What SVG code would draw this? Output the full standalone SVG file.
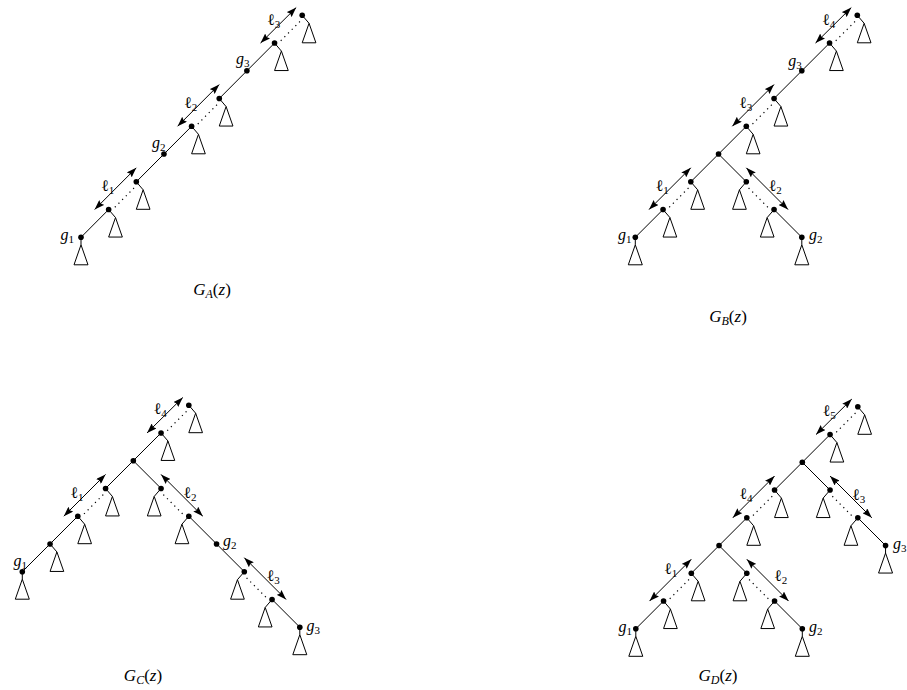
<svg xmlns="http://www.w3.org/2000/svg" width="907" height="690" viewBox="0 0 907 690">
<style>
.e{stroke:#000;stroke-width:1;fill:none}
.d{stroke:#000;stroke-width:1.2;stroke-dasharray:1.2 4;fill:none}
.a{stroke:#000;stroke-width:1;fill:none;marker-start:url(#ah);marker-end:url(#ah)}
.t{fill:#fff;stroke:#000;stroke-width:1;stroke-linejoin:miter}
.c{stroke:#000;stroke-width:1}
.n{fill:#000}
text{font-family:"Liberation Serif","Times New Roman","DejaVu Serif",serif;fill:#000}
.lb{font-size:16px}
.sb{font-size:11px}
.cap{font-size:17px}
.csb{font-size:12px}
.i{font-style:italic}
</style>
<defs>
<marker id="ah" viewBox="0 0 10 7" refX="10" refY="3.5" markerWidth="10" markerHeight="7" markerUnits="userSpaceOnUse" orient="auto-start-reverse">
<path d="M0,0 L10,3.5 L0,7 L1.5,3.5 Z" fill="#000"/>
</marker>
</defs>

<!-- ================= Tree A ================= -->
<g id="treeA">
<g id="A-connectors">
<line class="e" x1="81" y1="237.3" x2="108.65" y2="209.55"/>
<line class="e" x1="136.3" y1="181.8" x2="163.95" y2="154.05"/>
<line class="e" x1="163.95" y1="154.05" x2="191.6" y2="126.3"/>
<line class="e" x1="219.25" y1="98.55" x2="246.9" y2="70.8"/>
<line class="e" x1="246.9" y1="70.8" x2="274.55" y2="43.05"/>
<line class="d" x1="114.85" y1="207.25" x2="134" y2="188"/>
<line class="d" x1="197.8" y1="124" x2="216.95" y2="104.75"/>
<line class="d" x1="280.75" y1="40.75" x2="299.9" y2="21.5"/>
<line class="a" x1="94.65" y1="209.55" x2="136.3" y2="167.8"/>
<line class="a" x1="177.6" y1="126.3" x2="219.25" y2="84.55"/>
<line class="a" x1="260.55" y1="43.05" x2="296.2" y2="7.6"/>
<text class="lb" x="101" y="191">ℓ<tspan class="sb" dy="3">1</tspan></text>
<text class="lb" x="184" y="108">ℓ<tspan class="sb" dy="3">2</tspan></text>
<text class="lb" x="267" y="24.5">ℓ<tspan class="sb" dy="3">3</tspan></text>
</g>
<g id="A-g1"><line class="c" x1="81" y1="237.3" x2="81" y2="244.8"/><polygon class="t" points="81,244.8 74,264.8 88,264.8"/><circle class="n" cx="81" cy="237.3" r="2.8"/>
<text class="lb" x="74" y="239.5" text-anchor="end"><tspan class="i">g</tspan><tspan class="sb" dy="3">1</tspan></text></g>
<g id="A-n1"><line class="c" x1="108.65" y1="209.55" x2="115.5" y2="217.55"/><polygon class="t" points="115.5,217.55 108.65,237.05 122.35,237.05"/><circle class="n" cx="108.65" cy="209.55" r="2.8"/></g>
<g id="A-n2"><line class="c" x1="136.3" y1="181.8" x2="143.15" y2="189.8"/><polygon class="t" points="143.15,189.8 136.3,209.3 150,209.3"/><circle class="n" cx="136.3" cy="181.8" r="2.8"/></g>
<g id="A-g2"><circle class="n" cx="163.95" cy="154.05" r="2.8"/>
<text class="lb" x="165.5" y="148" text-anchor="end"><tspan class="i">g</tspan><tspan class="sb" dy="3">2</tspan></text></g>
<g id="A-n3"><line class="c" x1="191.6" y1="126.3" x2="198.45" y2="134.3"/><polygon class="t" points="198.45,134.3 191.6,153.8 205.3,153.8"/><circle class="n" cx="191.6" cy="126.3" r="2.8"/></g>
<g id="A-n4"><line class="c" x1="219.25" y1="98.55" x2="226.1" y2="106.55"/><polygon class="t" points="226.1,106.55 219.25,126.05 232.95,126.05"/><circle class="n" cx="219.25" cy="98.55" r="2.8"/></g>
<g id="A-g3"><circle class="n" cx="246.9" cy="70.8" r="2.8"/>
<text class="lb" x="249.5" y="64.3" text-anchor="end"><tspan class="i">g</tspan><tspan class="sb" dy="3">3</tspan></text></g>
<g id="A-n5"><line class="c" x1="274.55" y1="43.05" x2="281.4" y2="51.05"/><polygon class="t" points="281.4,51.05 274.55,70.55 288.25,70.55"/><circle class="n" cx="274.55" cy="43.05" r="2.8"/></g>
<g id="A-top"><line class="c" x1="302.2" y1="15.3" x2="309.05" y2="23.3"/><polygon class="t" points="309.05,23.3 302.2,42.8 315.9,42.8"/><circle class="n" cx="302.2" cy="15.3" r="2.8"/></g>
<text class="cap" x="212" y="295" text-anchor="middle"><tspan class="i">G</tspan><tspan class="csb i" dy="3">A</tspan><tspan dy="-3">(</tspan><tspan class="i">z</tspan>)</text>
</g>

<!-- ================= Tree B ================= -->
<g id="treeB">
<g id="B-connectors">
<line class="e" x1="635.3" y1="237.3" x2="663.05" y2="209.55"/>
<line class="e" x1="690.8" y1="181.8" x2="718.55" y2="154.05"/>
<line class="e" x1="718.55" y1="154.05" x2="746.3" y2="126.3"/>
<line class="e" x1="774.05" y1="98.55" x2="801.8" y2="70.8"/>
<line class="e" x1="801.8" y1="70.8" x2="829.55" y2="43.05"/>
<line class="e" x1="718.55" y1="154.05" x2="746.3" y2="181.8"/>
<line class="e" x1="774.05" y1="209.55" x2="801.8" y2="237.3"/>
<line class="d" x1="669.25" y1="207.25" x2="688.5" y2="188"/>
<line class="d" x1="752.5" y1="124" x2="771.75" y2="104.75"/>
<line class="d" x1="835.75" y1="40.75" x2="855" y2="21.5"/>
<line class="d" x1="748.6" y1="188" x2="767.85" y2="207.25"/>
<line class="a" x1="649.05" y1="209.55" x2="690.8" y2="167.8"/>
<line class="a" x1="732.3" y1="126.3" x2="774.05" y2="84.55"/>
<line class="a" x1="815.55" y1="43.05" x2="851.3" y2="7.6"/>
<line class="a" x1="746.3" y1="167.8" x2="788.05" y2="209.55"/>
<text class="lb" x="655.5" y="191">ℓ<tspan class="sb" dy="3">1</tspan></text>
<text class="lb" x="768.5" y="191">ℓ<tspan class="sb" dy="3">2</tspan></text>
<text class="lb" x="739" y="107.8">ℓ<tspan class="sb" dy="3">3</tspan></text>
<text class="lb" x="822" y="24.5">ℓ<tspan class="sb" dy="3">4</tspan></text>
</g>
<g id="B-g1"><line class="c" x1="635.3" y1="237.3" x2="635.3" y2="244.8"/><polygon class="t" points="635.3,244.8 628.3,264.8 642.3,264.8"/><circle class="n" cx="635.3" cy="237.3" r="2.8"/>
<text class="lb" x="631.5" y="240" text-anchor="end"><tspan class="i">g</tspan><tspan class="sb" dy="3">1</tspan></text></g>
<g id="B-n1"><line class="c" x1="663.05" y1="209.55" x2="669.9" y2="217.55"/><polygon class="t" points="669.9,217.55 663.05,237.05 676.75,237.05"/><circle class="n" cx="663.05" cy="209.55" r="2.8"/></g>
<g id="B-n2"><line class="c" x1="690.8" y1="181.8" x2="697.65" y2="189.8"/><polygon class="t" points="697.65,189.8 690.8,209.3 704.5,209.3"/><circle class="n" cx="690.8" cy="181.8" r="2.8"/></g>
<g id="B-branch"><circle class="n" cx="718.55" cy="154.05" r="2.8"/></g>
<g id="B-n3"><line class="c" x1="746.3" y1="126.3" x2="753.15" y2="134.3"/><polygon class="t" points="753.15,134.3 746.3,153.8 760,153.8"/><circle class="n" cx="746.3" cy="126.3" r="2.8"/></g>
<g id="B-n4"><line class="c" x1="774.05" y1="98.55" x2="780.9" y2="106.55"/><polygon class="t" points="780.9,106.55 774.05,126.05 787.75,126.05"/><circle class="n" cx="774.05" cy="98.55" r="2.8"/></g>
<g id="B-g3"><circle class="n" cx="801.8" cy="70.8" r="2.8"/>
<text class="lb" x="801.7" y="66" text-anchor="end"><tspan class="i">g</tspan><tspan class="sb" dy="3">3</tspan></text></g>
<g id="B-n5"><line class="c" x1="829.55" y1="43.05" x2="836.4" y2="51.05"/><polygon class="t" points="836.4,51.05 829.55,70.55 843.25,70.55"/><circle class="n" cx="829.55" cy="43.05" r="2.8"/></g>
<g id="B-top"><line class="c" x1="857.3" y1="15.3" x2="864.15" y2="23.3"/><polygon class="t" points="864.15,23.3 857.3,42.8 871,42.8"/><circle class="n" cx="857.3" cy="15.3" r="2.8"/></g>
<g id="B-r1"><line class="c" x1="746.3" y1="181.8" x2="739.45" y2="189.8"/><polygon class="t" points="739.45,189.8 732.6,209.3 746.3,209.3"/><circle class="n" cx="746.3" cy="181.8" r="2.8"/></g>
<g id="B-r2"><line class="c" x1="774.05" y1="209.55" x2="767.2" y2="217.55"/><polygon class="t" points="767.2,217.55 760.35,237.05 774.05,237.05"/><circle class="n" cx="774.05" cy="209.55" r="2.8"/></g>
<g id="B-g2"><line class="c" x1="801.8" y1="237.3" x2="801.8" y2="244.8"/><polygon class="t" points="801.8,244.8 794.8,264.8 808.8,264.8"/><circle class="n" cx="801.8" cy="237.3" r="2.8"/>
<text class="lb" x="809" y="240"><tspan class="i">g</tspan><tspan class="sb" dy="3">2</tspan></text></g>
<text class="cap" x="728" y="322" text-anchor="middle"><tspan class="i">G</tspan><tspan class="csb i" dy="3">B</tspan><tspan dy="-3">(</tspan><tspan class="i">z</tspan>)</text>
</g>

<!-- ================= Tree C ================= -->
<g id="treeC">
<g id="C-connectors">
<line class="e" x1="161.05" y1="432.95" x2="133.3" y2="460.7"/>
<line class="e" x1="133.3" y1="460.7" x2="105.55" y2="488.45"/>
<line class="e" x1="77.8" y1="516.2" x2="50.05" y2="543.95"/>
<line class="e" x1="50.05" y1="543.95" x2="22.3" y2="571.7"/>
<line class="e" x1="133.3" y1="460.7" x2="161.05" y2="488.45"/>
<line class="e" x1="188.8" y1="516.2" x2="216.55" y2="543.95"/>
<line class="e" x1="216.55" y1="543.95" x2="244.3" y2="571.7"/>
<line class="e" x1="272.05" y1="599.45" x2="299.8" y2="627.2"/>
<line class="d" x1="167.25" y1="430.65" x2="186.5" y2="411.4"/>
<line class="d" x1="84" y1="513.9" x2="103.25" y2="494.65"/>
<line class="d" x1="163.35" y1="494.65" x2="182.6" y2="513.9"/>
<line class="d" x1="246.6" y1="577.9" x2="265.85" y2="597.15"/>
<line class="a" x1="147.05" y1="432.95" x2="182.8" y2="397.5"/>
<line class="a" x1="63.8" y1="516.2" x2="105.55" y2="474.45"/>
<line class="a" x1="161.05" y1="474.45" x2="202.8" y2="516.2"/>
<line class="a" x1="244.3" y1="557.7" x2="286.05" y2="599.45"/>
<text class="lb" x="70.3" y="497.5">ℓ<tspan class="sb" dy="3">1</tspan></text>
<text class="lb" x="183.3" y="497.5">ℓ<tspan class="sb" dy="3">2</tspan></text>
<text class="lb" x="266.6" y="581">ℓ<tspan class="sb" dy="3">3</tspan></text>
<text class="lb" x="153.6" y="414">ℓ<tspan class="sb" dy="3">4</tspan></text>
</g>
<g id="C-top"><line class="c" x1="188.8" y1="405.2" x2="195.65" y2="413.2"/><polygon class="t" points="195.65,413.2 188.8,432.7 202.5,432.7"/><circle class="n" cx="188.8" cy="405.2" r="2.8"/></g>
<g id="C-n1"><line class="c" x1="161.05" y1="432.95" x2="167.9" y2="440.95"/><polygon class="t" points="167.9,440.95 161.05,460.45 174.75,460.45"/><circle class="n" cx="161.05" cy="432.95" r="2.8"/></g>
<g id="C-branch"><circle class="n" cx="133.3" cy="460.7" r="2.8"/></g>
<g id="C-l1"><line class="c" x1="105.55" y1="488.45" x2="112.4" y2="496.45"/><polygon class="t" points="112.4,496.45 105.55,515.95 119.25,515.95"/><circle class="n" cx="105.55" cy="488.45" r="2.8"/></g>
<g id="C-l2"><line class="c" x1="77.8" y1="516.2" x2="84.65" y2="524.2"/><polygon class="t" points="84.65,524.2 77.8,543.7 91.5,543.7"/><circle class="n" cx="77.8" cy="516.2" r="2.8"/></g>
<g id="C-l3"><line class="c" x1="50.05" y1="543.95" x2="56.9" y2="551.95"/><polygon class="t" points="56.9,551.95 50.05,571.45 63.75,571.45"/><circle class="n" cx="50.05" cy="543.95" r="2.8"/></g>
<g id="C-g1"><line class="c" x1="22.3" y1="571.7" x2="22.3" y2="579.2"/><polygon class="t" points="22.3,579.2 15.3,599.2 29.3,599.2"/><circle class="n" cx="22.3" cy="571.7" r="2.8"/>
<text class="lb" x="27" y="565.5" text-anchor="end"><tspan class="i">g</tspan><tspan class="sb" dy="3">1</tspan></text></g>
<g id="C-r1"><line class="c" x1="161.05" y1="488.45" x2="154.2" y2="496.45"/><polygon class="t" points="154.2,496.45 147.35,515.95 161.05,515.95"/><circle class="n" cx="161.05" cy="488.45" r="2.8"/></g>
<g id="C-r2"><line class="c" x1="188.8" y1="516.2" x2="181.95" y2="524.2"/><polygon class="t" points="181.95,524.2 175.1,543.7 188.8,543.7"/><circle class="n" cx="188.8" cy="516.2" r="2.8"/></g>
<g id="C-g2"><circle class="n" cx="216.55" cy="543.95" r="2.8"/>
<text class="lb" x="223" y="546"><tspan class="i">g</tspan><tspan class="sb" dy="3">2</tspan></text></g>
<g id="C-r3"><line class="c" x1="244.3" y1="571.7" x2="237.45" y2="579.7"/><polygon class="t" points="237.45,579.7 230.6,599.2 244.3,599.2"/><circle class="n" cx="244.3" cy="571.7" r="2.8"/></g>
<g id="C-r4"><line class="c" x1="272.05" y1="599.45" x2="265.2" y2="607.45"/><polygon class="t" points="265.2,607.45 258.35,626.95 272.05,626.95"/><circle class="n" cx="272.05" cy="599.45" r="2.8"/></g>
<g id="C-g3"><line class="c" x1="299.8" y1="627.2" x2="299.8" y2="634.7"/><polygon class="t" points="299.8,634.7 292.8,654.7 306.8,654.7"/><circle class="n" cx="299.8" cy="627.2" r="2.8"/>
<text class="lb" x="306.5" y="630.5"><tspan class="i">g</tspan><tspan class="sb" dy="3">3</tspan></text></g>
<text class="cap" x="143" y="681" text-anchor="middle"><tspan class="i">G</tspan><tspan class="csb i" dy="3">C</tspan><tspan dy="-3">(</tspan><tspan class="i">z</tspan>)</text>
</g>

<!-- ================= Tree D ================= -->
<g id="treeD">
<g id="D-connectors">
<line class="e" x1="830.05" y1="434.55" x2="802.3" y2="462.3"/>
<line class="e" x1="802.3" y1="462.3" x2="774.55" y2="490.05"/>
<line class="e" x1="746.8" y1="517.8" x2="719.05" y2="545.55"/>
<line class="e" x1="719.05" y1="545.55" x2="691.3" y2="573.3"/>
<line class="e" x1="663.55" y1="601.05" x2="635.8" y2="628.8"/>
<line class="e" x1="719.05" y1="545.55" x2="746.8" y2="573.3"/>
<line class="e" x1="774.55" y1="601.05" x2="802.3" y2="628.8"/>
<line class="e" x1="802.3" y1="462.3" x2="830.05" y2="490.05"/>
<line class="e" x1="857.8" y1="517.8" x2="885.55" y2="545.55"/>
<line class="d" x1="836.25" y1="432.25" x2="855.5" y2="413"/>
<line class="d" x1="753" y1="515.5" x2="772.25" y2="496.25"/>
<line class="d" x1="669.75" y1="598.75" x2="689" y2="579.5"/>
<line class="d" x1="749.1" y1="579.5" x2="768.35" y2="598.75"/>
<line class="d" x1="832.35" y1="496.25" x2="851.6" y2="515.5"/>
<line class="a" x1="816.05" y1="434.55" x2="851.8" y2="399.1"/>
<line class="a" x1="732.8" y1="517.8" x2="774.55" y2="476.05"/>
<line class="a" x1="649.55" y1="601.05" x2="691.3" y2="559.3"/>
<line class="a" x1="746.8" y1="559.3" x2="788.55" y2="601.05"/>
<line class="a" x1="830.05" y1="476.05" x2="871.8" y2="517.8"/>
<text class="lb" x="664" y="574">ℓ<tspan class="sb" dy="3">1</tspan></text>
<text class="lb" x="774" y="581">ℓ<tspan class="sb" dy="3">2</tspan></text>
<text class="lb" x="852" y="500">ℓ<tspan class="sb" dy="3">3</tspan></text>
<text class="lb" x="739.3" y="499.3">ℓ<tspan class="sb" dy="3">4</tspan></text>
<text class="lb" x="822.5" y="416">ℓ<tspan class="sb" dy="3">5</tspan></text>
</g>
<g id="D-top"><line class="c" x1="857.8" y1="406.8" x2="864.65" y2="414.8"/><polygon class="t" points="864.65,414.8 857.8,434.3 871.5,434.3"/><circle class="n" cx="857.8" cy="406.8" r="2.8"/></g>
<g id="D-n1"><line class="c" x1="830.05" y1="434.55" x2="836.9" y2="442.55"/><polygon class="t" points="836.9,442.55 830.05,462.05 843.75,462.05"/><circle class="n" cx="830.05" cy="434.55" r="2.8"/></g>
<g id="D-branch1"><circle class="n" cx="802.3" cy="462.3" r="2.8"/></g>
<g id="D-n2"><line class="c" x1="774.55" y1="490.05" x2="781.4" y2="498.05"/><polygon class="t" points="781.4,498.05 774.55,517.55 788.25,517.55"/><circle class="n" cx="774.55" cy="490.05" r="2.8"/></g>
<g id="D-n3"><line class="c" x1="746.8" y1="517.8" x2="753.65" y2="525.8"/><polygon class="t" points="753.65,525.8 746.8,545.3 760.5,545.3"/><circle class="n" cx="746.8" cy="517.8" r="2.8"/></g>
<g id="D-branch2"><circle class="n" cx="719.05" cy="545.55" r="2.8"/></g>
<g id="D-l1"><line class="c" x1="691.3" y1="573.3" x2="698.15" y2="581.3"/><polygon class="t" points="698.15,581.3 691.3,600.8 705,600.8"/><circle class="n" cx="691.3" cy="573.3" r="2.8"/></g>
<g id="D-l2"><line class="c" x1="663.55" y1="601.05" x2="670.4" y2="609.05"/><polygon class="t" points="670.4,609.05 663.55,628.55 677.25,628.55"/><circle class="n" cx="663.55" cy="601.05" r="2.8"/></g>
<g id="D-g1"><line class="c" x1="635.8" y1="628.8" x2="635.8" y2="636.3"/><polygon class="t" points="635.8,636.3 628.8,656.3 642.8,656.3"/><circle class="n" cx="635.8" cy="628.8" r="2.8"/>
<text class="lb" x="632" y="631.5" text-anchor="end"><tspan class="i">g</tspan><tspan class="sb" dy="3">1</tspan></text></g>
<g id="D-m1"><line class="c" x1="746.8" y1="573.3" x2="739.95" y2="581.3"/><polygon class="t" points="739.95,581.3 733.1,600.8 746.8,600.8"/><circle class="n" cx="746.8" cy="573.3" r="2.8"/></g>
<g id="D-m2"><line class="c" x1="774.55" y1="601.05" x2="767.7" y2="609.05"/><polygon class="t" points="767.7,609.05 760.85,628.55 774.55,628.55"/><circle class="n" cx="774.55" cy="601.05" r="2.8"/></g>
<g id="D-g2"><line class="c" x1="802.3" y1="628.8" x2="802.3" y2="636.3"/><polygon class="t" points="802.3,636.3 795.3,656.3 809.3,656.3"/><circle class="n" cx="802.3" cy="628.8" r="2.8"/>
<text class="lb" x="809" y="631.5"><tspan class="i">g</tspan><tspan class="sb" dy="3">2</tspan></text></g>
<g id="D-r1"><line class="c" x1="830.05" y1="490.05" x2="823.2" y2="498.05"/><polygon class="t" points="823.2,498.05 816.35,517.55 830.05,517.55"/><circle class="n" cx="830.05" cy="490.05" r="2.8"/></g>
<g id="D-r2"><line class="c" x1="857.8" y1="517.8" x2="850.95" y2="525.8"/><polygon class="t" points="850.95,525.8 844.1,545.3 857.8,545.3"/><circle class="n" cx="857.8" cy="517.8" r="2.8"/></g>
<g id="D-g3"><line class="c" x1="885.55" y1="545.55" x2="885.55" y2="553.05"/><polygon class="t" points="885.55,553.05 878.55,573.05 892.55,573.05"/><circle class="n" cx="885.55" cy="545.55" r="2.8"/>
<text class="lb" x="893" y="548.5"><tspan class="i">g</tspan><tspan class="sb" dy="3">3</tspan></text></g>
<text class="cap" x="718" y="681" text-anchor="middle"><tspan class="i">G</tspan><tspan class="csb i" dy="3">D</tspan><tspan dy="-3">(</tspan><tspan class="i">z</tspan>)</text>
</g>
</svg>
